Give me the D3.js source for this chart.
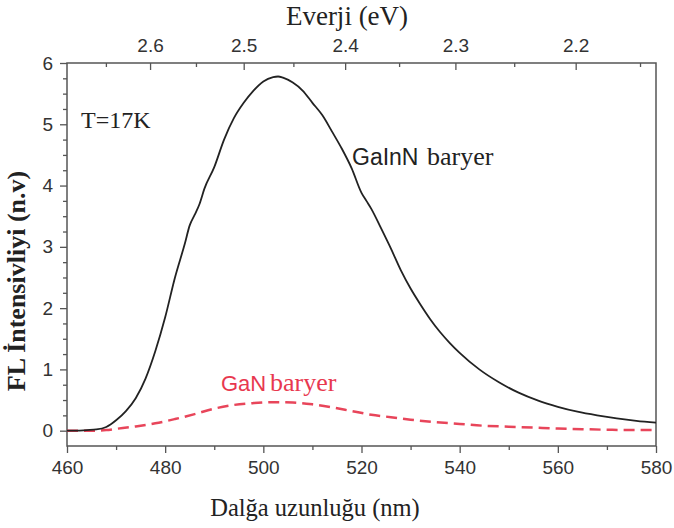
<!DOCTYPE html>
<html>
<head>
<meta charset="utf-8">
<script src="https://cdn.jsdelivr.net/npm/d3@7"></script>
<style>
  html, body { margin: 0; padding: 0; background: #fff; }
  #chart { width: 674px; height: 528px; }
  .tick text { font-family: "Liberation Sans", Arial, sans-serif; font-size: 19px; fill: #333; }
  .tick line { stroke: #555; stroke-width: 1.3; }
</style>
</head>
<body>
<div id="chart"></div>
<script>
// wavelength (nm) and PL intensity (n.v)
const wavelengthGaInN = [460, 462, 464, 466, 468, 470, 472, 474, 476, 478, 480, 482, 484, 485, 486, 487, 488, 490, 492, 494, 496, 498, 500, 502, 503, 504, 506, 508, 510, 512, 514, 516, 518, 520, 521, 522, 524, 526, 528, 530, 532, 534, 536, 538, 540, 544, 548, 552, 556, 560, 564, 568, 572, 576, 580];
const intensityGaInN = [0.00, 0.00, 0.01, 0.02, 0.06, 0.17, 0.32, 0.53, 0.85, 1.30, 1.85, 2.50, 3.05, 3.35, 3.52, 3.70, 3.95, 4.30, 4.75, 5.10, 5.35, 5.55, 5.70, 5.77, 5.78, 5.76, 5.68, 5.55, 5.35, 5.15, 4.88, 4.60, 4.28, 3.88, 3.75, 3.62, 3.30, 2.97, 2.62, 2.32, 2.06, 1.82, 1.61, 1.43, 1.27, 1.00, 0.79, 0.62, 0.49, 0.39, 0.31, 0.25, 0.20, 0.16, 0.13];

const wavelengthGaN = [460, 465, 468, 470, 474, 478, 482, 486, 490, 494, 498, 502, 506, 510, 514, 518, 522, 526, 530, 535, 540, 545, 550, 555, 560, 565, 570, 575, 580];
const intensityGaN = [0.00, 0.00, 0.01, 0.03, 0.07, 0.12, 0.19, 0.27, 0.36, 0.42, 0.45, 0.465, 0.46, 0.43, 0.38, 0.32, 0.26, 0.22, 0.18, 0.14, 0.11, 0.08, 0.065, 0.05, 0.035, 0.025, 0.015, 0.01, 0.01];

const xTicks = [460, 480, 500, 520, 540, 560, 580];
const xMinorTicks = [470, 490, 510, 530, 550, 570];
const yTicks = [0, 1, 2, 3, 4, 5, 6];
const energyTicks = [2.6, 2.5, 2.4, 2.3, 2.2];
const energyMinorTicks = [2.65, 2.55, 2.45, 2.35, 2.25, 2.15];

const SERIF = '"Liberation Serif", "Times New Roman", serif';
const SANS = '"Liberation Sans", Arial, sans-serif';

function draw() {
  d3.select("#chart").selectAll("*").remove();

  const w = 674, h = 528;
  const left = 67, right = 656, top = 63, bottom = 446;

  const svg = d3.select("#chart")
    .append("svg")
    .attr("width", w)
    .attr("height", h);

  const x = d3.scaleLinear().domain([460, 580]).range([left, right]);
  const y = d3.scaleLinear().domain([-0.25, 6]).range([bottom, top]);
  // energy axis: E = 1240 / lambda, so x is linear in 1/E
  const xE = d3.scalePow().exponent(-1)
    .domain([1240 / 460, 1240 / 580])
    .range([left, right]);

  // minor ticks every 0.25
  const yMinor = d3.range(0, 25).map(i => i * 0.25).filter(v => !yTicks.includes(v));

  svg.append("g")
    .attr("transform", `translate(0,${bottom})`)
    .call(d3.axisBottom(x).tickValues(xMinorTicks).tickSize(4).tickFormat(""))
    .call(g => g.select(".domain").remove());
  svg.append("g")
    .attr("transform", `translate(0,${bottom})`)
    .call(d3.axisBottom(x).tickValues(xTicks).tickSize(7).tickPadding(8))
    .call(g => g.select(".domain").remove());

  svg.append("g")
    .attr("transform", `translate(${left},0)`)
    .call(d3.axisLeft(y).tickValues(yMinor).tickSize(4).tickFormat(""))
    .call(g => g.select(".domain").remove());
  svg.append("g")
    .attr("transform", `translate(${left},0)`)
    .call(d3.axisLeft(y).tickValues(yTicks).tickSize(7).tickPadding(7).tickFormat(d3.format("d")))
    .call(g => g.select(".domain").remove());

  svg.append("g")
    .attr("transform", `translate(0,${top})`)
    .call(d3.axisTop(xE).tickValues(energyMinorTicks).tickSize(-4).tickFormat(""))
    .call(g => g.select(".domain").remove());
  svg.append("g")
    .attr("transform", `translate(0,${top})`)
    .call(d3.axisTop(xE).tickValues(energyTicks).tickSize(-7).tickPadding(11).tickFormat(d3.format(".1f")))
    .call(g => g.select(".domain").remove());

  // frame
  svg.append("rect")
    .attr("x", left)
    .attr("y", top)
    .attr("width", right - left)
    .attr("height", bottom - top)
    .attr("fill", "none")
    .attr("stroke", "#555")
    .attr("stroke-width", 1.5);

  svg.append("clipPath").attr("id", "clip")
    .append("rect")
    .attr("x", left).attr("y", top)
    .attr("width", right - left).attr("height", bottom - top);

  const line = d3.line()
    .x(d => x(d[0]))
    .y(d => y(d[1]))
    .curve(d3.curveMonotoneX);

  svg.append("path")
    .datum(d3.zip(wavelengthGaN, intensityGaN))
    .attr("clip-path", "url(#clip)")
    .attr("fill", "none")
    .attr("stroke", "#e8455a")
    .attr("stroke-width", 2.5)
    .attr("stroke-dasharray", "11,6")
    .attr("d", line);

  svg.append("path")
    .datum(d3.zip(wavelengthGaInN, intensityGaInN))
    .attr("clip-path", "url(#clip)")
    .attr("fill", "none")
    .attr("stroke", "#222")
    .attr("stroke-width", 1.8)
    .attr("d", line);

  // axis titles
  svg.append("text")
    .attr("x", 347)
    .attr("y", 25)
    .attr("text-anchor", "middle")
    .attr("fill", "#222")
    .style("font-family", SERIF)
    .style("font-size", "27px")
    .text("Everji (eV)");

  svg.append("text")
    .attr("x", 315)
    .attr("y", 516)
    .attr("text-anchor", "middle")
    .attr("fill", "#222")
    .style("font-family", SERIF)
    .style("font-size", "24.5px")
    .text("Dalğa uzunluğu (nm)");

  svg.append("text")
    .attr("transform", "translate(25,281) rotate(-90)")
    .attr("text-anchor", "middle")
    .attr("fill", "#222")
    .style("font-family", SERIF)
    .style("font-size", "26px")
    .style("font-weight", "bold")
    .text("FL İntensivliyi (n.v)");

  // annotations
  svg.append("text")
    .attr("x", 81)
    .attr("y", 128)
    .attr("fill", "#222")
    .style("font-family", SERIF)
    .style("font-size", "24px")
    .text("T=17K");

  const lab1 = svg.append("text").attr("x", 352).attr("y", 165).attr("fill", "#222");
  lab1.append("tspan").style("font-family", SANS).style("font-size", "23px").text("GaInN");
  lab1.append("tspan").attr("x", 427).style("font-family", SERIF).style("font-size", "26px").text("baryer");

  const lab2 = svg.append("text").attr("x", 221).attr("y", 391).attr("fill", "#e8384f");
  lab2.append("tspan").style("font-family", SANS).style("font-size", "22px").text("GaN");
  lab2.append("tspan").attr("x", 270).style("font-family", SERIF).style("font-size", "26px").text("baryer");
}

draw();
</script>
</body>
</html>
